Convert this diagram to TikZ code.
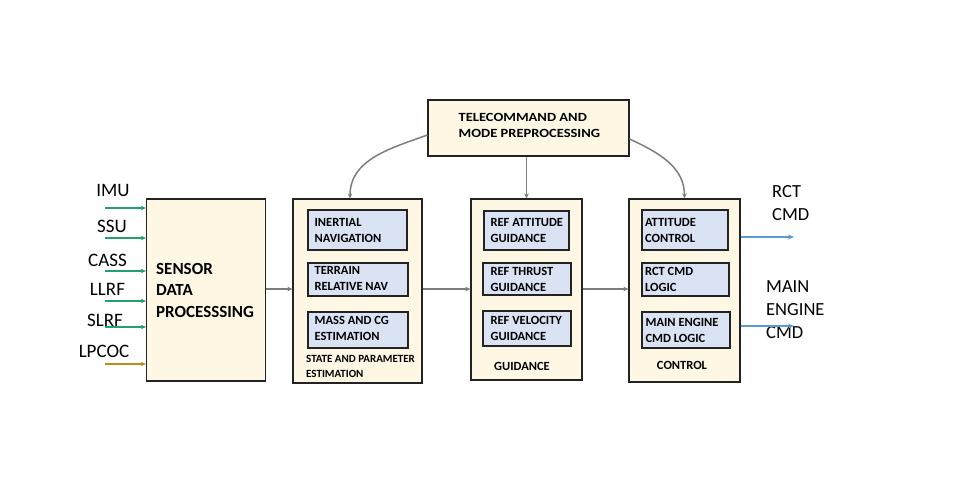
\documentclass[tikz,border=0pt]{standalone}
\usepackage{fontspec}
\setmainfont{Carlito}
\usetikzlibrary{arrows.meta}
\definecolor{cream}{RGB}{254,247,228}
\definecolor{lblue}{RGB}{218,227,243}
\definecolor{sgreen}{RGB}{36,160,110}
\definecolor{sgold}{RGB}{190,140,25}
\definecolor{oblue}{RGB}{91,155,213}
\definecolor{agray}{RGB}{125,125,125}
\definecolor{edge}{RGB}{35,35,35}
\begin{document}
\begin{tikzpicture}[x=1pt,y=-1pt,
  mainbox/.style={draw=edge, line width=1.2pt, fill=cream, inner sep=0pt},
  innerbox/.style={draw=edge, line width=1.2pt, fill=lblue, inner sep=0pt},
  innertext/.style={align=left, inner sep=0pt, anchor=west,
    font=\bfseries\fontsize{12.5}{16}\selectfont},
  caption/.style={font=\bfseries\fontsize{12.5}{15}\selectfont, inner sep=0pt},
  biglabel/.style={font=\fontsize{19}{23}\selectfont, inner sep=0pt, anchor=base},
  outlabel/.style={font=\fontsize{18.5}{23}\selectfont, inner sep=0pt, align=left, anchor=north west},
  garrow/.style={draw=agray, line width=1.5pt, -{Stealth[length=5pt,width=4.5pt]}},
  inarrow/.style={line width=1.5pt, -{Stealth[length=5pt,width=4.5pt]}},
  oarrow/.style={draw=oblue, line width=1.5pt, -{Stealth[length=6pt,width=5pt]}}
]
\useasboundingbox (0,0) rectangle (957,486);

% main boxes
\node[mainbox, minimum width=119pt, minimum height=182pt] (sdp) at (206,290) {};
\node[font=\bfseries\fontsize{17}{21.5}\selectfont, align=left, anchor=west, inner sep=0pt] (sdpt) at (156,290) {SENSOR\\DATA\\PROCESSSING};

\node[mainbox, minimum width=129pt, minimum height=184pt] (sep) at (357.5,291) {};
\node[mainbox, minimum width=111pt, minimum height=181pt] (gd) at (526.5,289.5) {};
\node[mainbox, minimum width=111pt, minimum height=183pt] (ctl) at (684.5,290.5) {};
\node[mainbox, minimum width=201pt, minimum height=56pt] (tc) at (528.5,128) {};
\node[font=\bfseries\fontsize{12.5}{16.7}\selectfont, align=left, anchor=west, inner sep=0pt] (tct) at (458.5,125.5) {\scalebox{1.16}[1]{TELECOMMAND AND}\\\scalebox{1.16}[1]{MODE PREPROCESSING}};

% state inner boxes
\node[innerbox, minimum width=99pt, minimum height=40pt] (s1) at (357.5,230) {};
\node[innerbox, minimum width=100pt, minimum height=33pt] (s2) at (358,279.5) {};
\node[innerbox, minimum width=100pt, minimum height=36pt] (s3) at (358,330) {};
\node[innertext, xshift=7pt] (s1t) at (s1.west) {INERTIAL\\NAVIGATION};
\node[innertext, xshift=7pt, yshift=1pt] (s2t) at (s2.west) {TERRAIN\\RELATIVE NAV};
\node[innertext, xshift=7pt, yshift=2pt] (s3t) at (s3.west) {MASS AND CG\\ESTIMATION};
\node[caption, font=\bfseries\fontsize{11}{15}\selectfont, align=left, anchor=north west] (sc) at (306,355) {STATE AND PARAMETER\\ESTIMATION};

% guidance inner boxes
\node[innerbox, minimum width=85pt, minimum height=39pt] (g1) at (526.5,230.5) {};
\node[innerbox, minimum width=88pt, minimum height=32pt] (g2) at (527,279) {};
\node[innerbox, minimum width=88pt, minimum height=35pt] (g3) at (527,328.5) {};
\node[innertext, xshift=7pt] (g1t) at (g1.west) {REF ATTITUDE\\GUIDANCE};
\node[innertext, xshift=8pt] (g2t) at (g2.west) {REF THRUST\\GUIDANCE};
\node[innertext, xshift=8pt] (g3t) at (g3.west) {REF VELOCITY\\GUIDANCE};
\node[caption] (gc) at (522,366) {GUIDANCE};

% control inner boxes
\node[innerbox, minimum width=86pt, minimum height=40pt] (c1) at (685,230) {};
\node[innerbox, minimum width=87pt, minimum height=33pt] (c2) at (685.5,279.5) {};
\node[innerbox, minimum width=88pt, minimum height=36pt] (c3) at (686,330) {};
\node[innertext, xshift=3.5pt] (c1t) at (c1.west) {ATTITUDE\\CONTROL};
\node[innertext, xshift=3.5pt] (c2t) at (c2.west) {RCT CMD\\LOGIC};
\node[innertext, xshift=4pt] (c3t) at (c3.west) {MAIN ENGINE\\CMD LOGIC};
\node[caption] (cc) at (682,365) {CONTROL};

% input labels
\node[biglabel] (limu) at (113,197) {IMU};
\node[biglabel] (lssu) at (112,233) {SSU};
\node[biglabel] (lcass) at (107.5,266) {CASS};
\node[biglabel] (lllrf) at (107.5,295) {LLRF};
\node[biglabel] (lslrf) at (105,326) {SLRF};
\node[biglabel] (llpcoc) at (104,357) {LPCOC};

\coordinate (iimu) at (105,208);
\coordinate (issu) at (105,238);
\coordinate (icass) at (105,271);
\coordinate (illrf) at (105,301);
\coordinate (islrf) at (105,327);
\coordinate (ilpcoc) at (105,364);

\draw[inarrow, draw=sgreen] (iimu) -- (sdp.west |- iimu);
\draw[inarrow, draw=sgreen] (issu) -- (sdp.west |- issu);
\draw[inarrow, draw=sgreen] (icass) -- (sdp.west |- icass);
\draw[inarrow, draw=sgreen] (illrf) -- (sdp.west |- illrf);
\draw[inarrow, draw=sgreen] (islrf) -- (sdp.west |- islrf);
\draw[inarrow, draw=sgold] (ilpcoc) -- (sdp.west |- ilpcoc);

% output labels
\node[outlabel] (lrct) at (772,185) {RCT\\CMD};
\node[outlabel] (lme) at (766,280) {MAIN\\ENGINE\\CMD};
\coordinate (orct) at (794,237);
\coordinate (ome) at (794,326);
\draw[oarrow] (ctl.east |- orct) -- (orct);
\draw[oarrow] (ctl.east |- ome) -- (ome);

% main flow
\coordinate (flow) at (0,289);
\draw[garrow] (sdp.east |- flow) -- (sep.west |- flow);
\draw[garrow] (sep.east |- flow) -- (gd.west |- flow);
\draw[garrow] (gd.east |- flow) -- (ctl.west |- flow);

% telecommand arrows
\coordinate (tcl) at (0,135);
\coordinate (tcr) at (0,139);
\coordinate (sept) at (350,0);
\draw[garrow] (tc.west |- tcl) to[out=200, in=90] (sep.north -| sept);
\draw[garrow] (tc.south -| gd.north) -- (gd.north);
\draw[garrow] (tc.east |- tcr) to[out=-25, in=90] (ctl.north);
\end{tikzpicture}
\end{document}
